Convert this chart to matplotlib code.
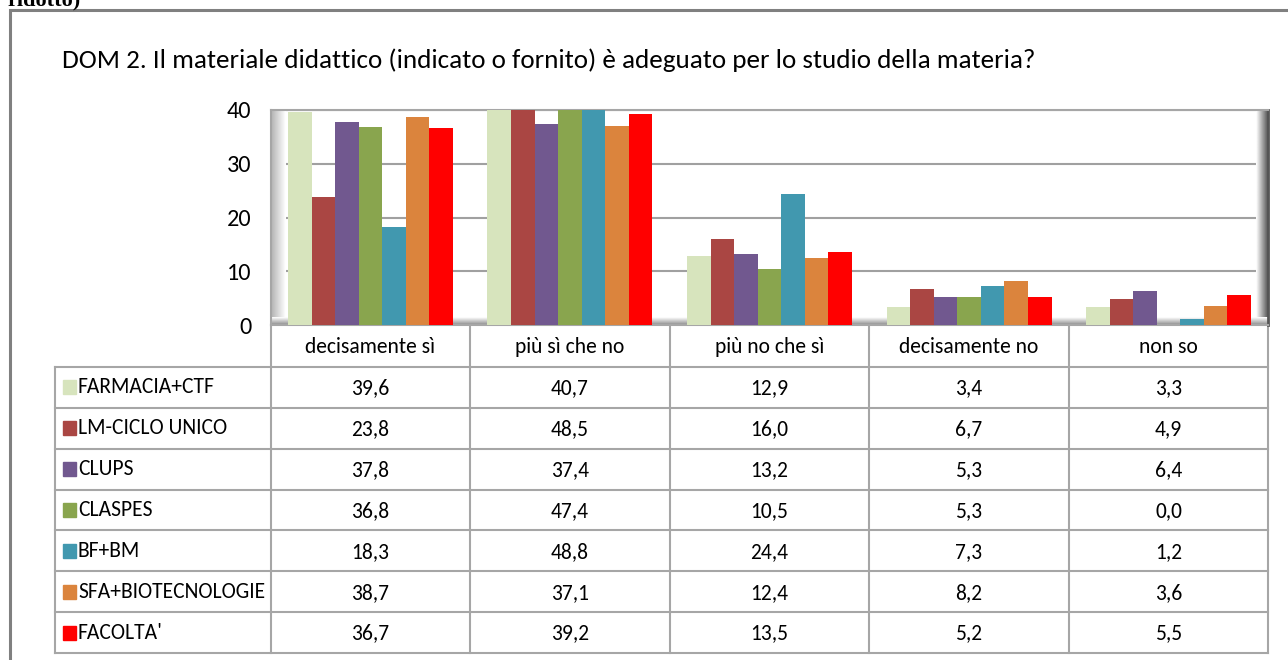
import numpy as np
import matplotlib
matplotlib.use('Agg')
import matplotlib.pyplot as plt
from matplotlib.patches import Rectangle

# data
categories = ['decisamente sì', 'più sì che no', 'più no che sì', 'decisamente no', 'non so']
series_names = ['FARMACIA+CTF', 'LM-CICLO UNICO', 'CLUPS', 'CLASPES', 'BF+BM',
                'SFA+BIOTECNOLOGIE', "FACOLTA'"]
farmacia_ctf = [39.6, 40.7, 12.9, 3.4, 3.3]
lm_ciclo_unico = [23.8, 48.5, 16.0, 6.7, 4.9]
clups = [37.8, 37.4, 13.2, 5.3, 6.4]
claspes = [36.8, 47.4, 10.5, 5.3, 0.0]
bf_bm = [18.3, 48.8, 24.4, 7.3, 1.2]
sfa_biotec = [38.7, 37.1, 12.4, 8.2, 3.6]
facolta = [36.7, 39.2, 13.5, 5.2, 5.5]
values = [farmacia_ctf, lm_ciclo_unico, clups, claspes, bf_bm, sfa_biotec, facolta]
colors = ['#D7E4BD', '#AA4643', '#71588F', '#89A54E', '#4198AF', '#DB843D', '#FF0000']
y_ticks = [0, 10, 20, 30, 40]
title = 'DOM 2. Il materiale didattico (indicato o fornito) è adeguato per lo studio della materia?'

FONT = ['Carlito', 'DejaVu Sans']

W, H = 1288, 660
fig = plt.figure(figsize=(W / 100, H / 100), dpi=100)

plot_l, plot_r = 270.7, 1268.3
plot_t, plot_b = 110, 325
col_w = (plot_r - plot_l) / len(categories)
table_l = 55.5
head_b = 367
row_h = (653 - head_b) / len(series_names)

# overlay axes in pixel coords (frame, title, table)
ov = fig.add_axes([0, 0, 1, 1])
ov.set_xlim(0, W)
ov.set_ylim(H, 0)
ov.axis('off')
ov.set_zorder(0)

ov.plot([10, 10, W], [H, 10, 10], color='#808080', lw=2.2, solid_joinstyle='miter')
ov.text(7, 5, 'ridotto)', family=['Liberation Serif'], weight='bold', fontsize=16,
        va='baseline')
ov.text(62, 60, title, family=FONT, fontsize=19.5, va='center')

grid_c = '#A6A6A6'
table_b = head_b + len(series_names) * row_h
for k in range(len(series_names) + 1):
    y = head_b + k * row_h
    ov.plot([table_l, plot_r], [y, y], color=grid_c, lw=1.5)
ov.plot([table_l, table_l], [head_b, table_b], color=grid_c, lw=1.5)
for k in range(len(categories) + 1):
    x = plot_l + k * col_w
    ov.plot([x, x], [plot_b, table_b], color=grid_c, lw=1.5)

for j, cat in enumerate(categories):
    ov.text(plot_l + (j + 0.5) * col_w, (plot_b + head_b) / 2 + 1, cat, family=FONT,
            fontsize=15.5, ha='center', va='center')

for i, name in enumerate(series_names):
    yc = head_b + (i + 0.5) * row_h
    ov.add_patch(Rectangle((63, yc - 7), 13, 14, color=colors[i]))
    ov.text(78, yc, name, family=FONT, fontsize=15.5, va='center')
    for j, v in enumerate(values[i]):
        ov.text(plot_l + (j + 0.5) * col_w, yc + 1, f'{v:.1f}'.replace('.', ','),
                family=FONT, fontsize=15.5, ha='center', va='center')

# bar chart
ax = fig.add_axes([plot_l / W, 1 - plot_b / H, (plot_r - plot_l) / W, (plot_b - plot_t) / H])
ax.set_zorder(1)
x = np.arange(len(categories))
bw = 0.827 / len(series_names)
for i, vals in enumerate(values):
    ax.bar(x + (i - 3) * bw, vals, width=bw, color=colors[i], zorder=3)

# fake 3d floor and walls
floor = np.linspace(1, 0.55, 20).reshape(-1, 1)
ax.imshow(floor, extent=(-0.5, 4.5, 0, 1.4), aspect='auto', cmap='gray', vmin=0, vmax=1,
          zorder=2)
wall = np.linspace(0.7, 1, 20).reshape(1, -1)
ax.imshow(wall, extent=(-0.5, -0.5 + 15 / col_w, 0, 40), aspect='auto', cmap='gray',
          vmin=0, vmax=1, zorder=1)
rwall = np.linspace(1, 0.35, 20).reshape(1, -1)
ax.imshow(rwall, extent=(4.5 - 12 / col_w, 4.5, 0, 40), aspect='auto', cmap='gray',
          vmin=0, vmax=1, zorder=1)

ax.set_xlim(-0.5, 4.5)
ax.set_ylim(0, 40)
ax.set_yticks(y_ticks)
ax.set_xticks([])
ax.yaxis.grid(True, color='#A0A0A0', lw=1.5, zorder=0)
ax.set_axisbelow(True)
ax.tick_params(axis='y', length=0, pad=14, labelsize=17.5)
for lab in ax.get_yticklabels():
    lab.set_family(FONT)
for s in ['top', 'left', 'bottom']:
    ax.spines[s].set_color('#A6A6A6')
    ax.spines[s].set_linewidth(1.5)
ax.spines['right'].set_color('#555555')
ax.spines['right'].set_linewidth(2)

fig.savefig('out.png', dpi=100)
